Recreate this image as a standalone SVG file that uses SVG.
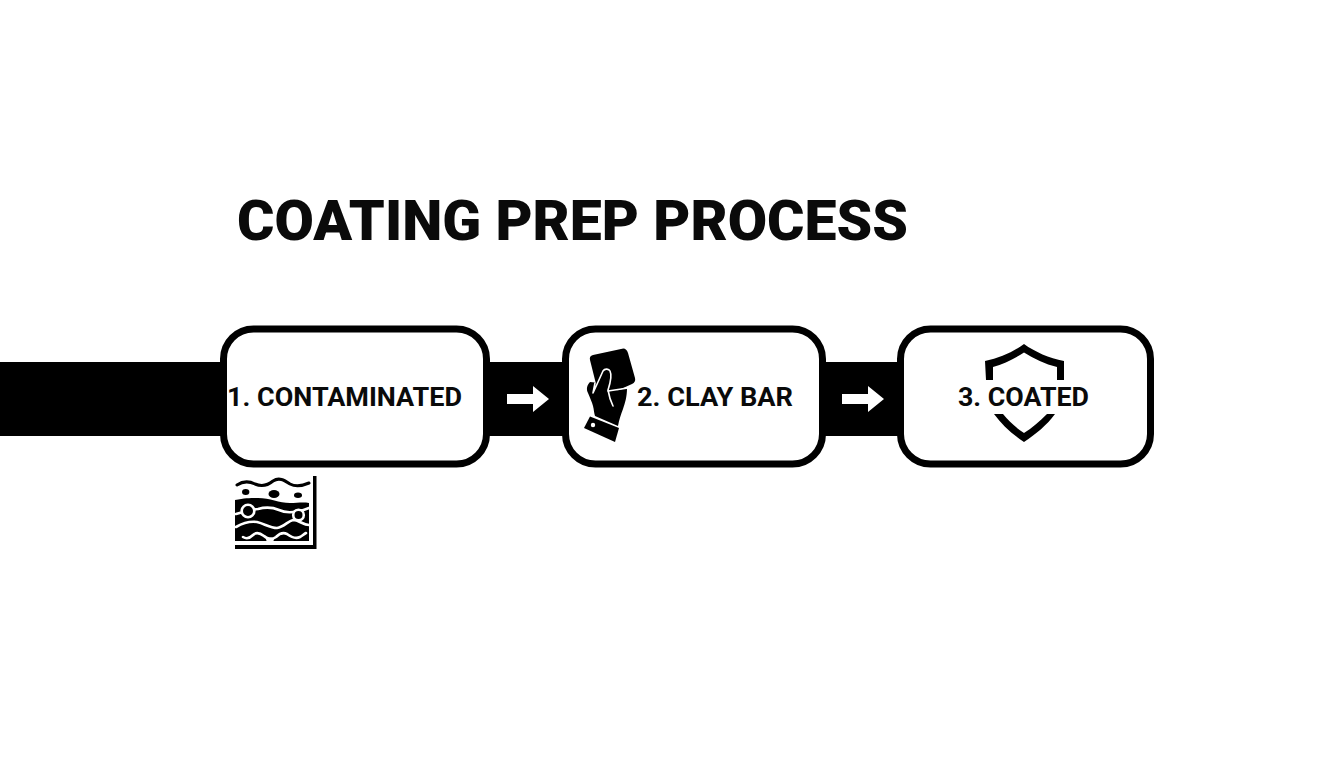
<svg xmlns="http://www.w3.org/2000/svg" width="1344" height="768" viewBox="0 0 1344 768">
<style>
.box{fill:#fff;stroke:#000;stroke-width:7}
.lbl{font-family:Roboto,"Liberation Sans",Arial,sans-serif;font-weight:700;font-size:26px;fill:#0a0a0a}
.title{font-family:Roboto,"Liberation Sans",Arial,sans-serif;font-weight:900;font-size:56px;fill:#0a0a0a}
.w{fill:none;stroke:#fff;stroke-width:2.600;stroke-linecap:round;stroke-linejoin:round}
.t{fill:none;stroke:#fff;stroke-width:1.600;stroke-linecap:round;stroke-linejoin:round}
.k{fill:none;stroke:#000;stroke-width:3;stroke-linecap:round}
</style>
<rect width="1344" height="768" fill="#fff"/>
<g id="connectors">
<rect x="0" y="362" width="225" height="74" fill="#000"/>
<rect x="486" y="362" width="82" height="74" fill="#000"/>
<rect x="822" y="362" width="80" height="74" fill="#000"/>
<polygon points="507,394 533,394 533,386 549,399 533,412 533,404 507,404" fill="#fff"/>
<polygon points="842,394 868,394 868,386 884,399 868,412 868,404 842,404" fill="#fff"/>
</g>
<text id="title" class="title" x="237" y="240" textLength="671" lengthAdjust="spacingAndGlyphs">COATING PREP PROCESS</text>
<g id="node-1">
<rect class="box" x="223.500" y="329" width="263" height="135" rx="30"/>
<text class="lbl" x="227" y="406" textLength="235" lengthAdjust="spacingAndGlyphs">1. CONTAMINATED</text>
<g id="contaminated-icon">
<path d="M313,476H316.500V549H235V545H313Z" fill="#000"/>
<path class="k" d="M237,485C243,481 249,481 255,484C262,487 267,486 273,481C279,477 284,480 290,484C296,487 302,486 309,483"/>
<ellipse cx="245.700" cy="492" rx="3.700" ry="3" fill="#000"/>
<ellipse cx="274" cy="494" rx="5.500" ry="4" fill="#000"/>
<ellipse cx="298" cy="495.300" rx="4" ry="2.700" fill="#000"/>
<path d="M235,500C245,498 251,498 258,498C270,498 279,503 290,503C297,503 303,502 309,503V541H235Z" fill="#000"/>
<path class="w" d="M236,514C242,512 250,510 258,509C265,507 272,507 279,510C287,514 296,513 309,508"/>
<circle cx="248" cy="511" r="6.300" fill="#000" stroke="#fff" stroke-width="2.600"/>
<circle cx="298.500" cy="515" r="5.300" fill="#000" stroke="#fff" stroke-width="2.600"/>
<path class="w" d="M236,527C243,523 250,521 257,522C265,524 270,528 277,528C284,527 288,521 293,520C299,520 303,525 309,525"/>
<path class="w" d="M243,537C246,539 250,538 253,535C256,532 260,533 264,536C267,539 272,540 276,537C279,534 283,532 287,534C291,537 296,539 300,537C302,536 304,534 306,533"/>
<ellipse cx="270" cy="539.500" rx="4" ry="2" fill="#fff"/>
</g>
</g>
<g id="node-2">
<rect class="box" x="565.500" y="329" width="257" height="135" rx="30"/>
<text class="lbl" x="637" y="406" textLength="156" lengthAdjust="spacingAndGlyphs">2. CLAY BAR</text>
<g id="hand-icon">
<path d="M593,355Q589,356 590,360L596,384L612,393L632,384Q636,382 635,378L628,353Q626,347 621,349Z" fill="#000"/>
<path d="M590,382C587,385 586,389 588,393C590,398 592,402 593,406C594,410 594,413 595,416L618,426C619,420 621,414 623,409C625,403 627,397 627,388L610,392L600,383Z" fill="#000"/>
<path class="t" d="M595,383L593,393L603,371C605,368 609,369 610,371C612,375 610,384 608,390C609,396 611,402 613,406"/>
<path class="t" d="M608,391L628,388"/>
<path d="M590,416.500L619,428L615,442L584,428Z" fill="#000"/>
<circle cx="593" cy="425" r="2.200" fill="#fff"/>
</g>
</g>
<g id="node-3">
<rect class="box" x="900.500" y="329" width="250" height="135" rx="30"/>
<path d="M985,361C1000,358 1013,352 1024,344C1035,352 1049,358 1064,361V380H1057V367C1045,364 1034,359 1024,352.500C1014,359 1004,364 993,367V380H986Z" fill="#000"/>
<path d="M994,414H1003C1009,421 1016,428 1024,433C1032,428 1040,421 1047,414H1055C1047,425 1036,434 1024,442C1012,434 1002,425 994,414Z" fill="#000"/>
<text class="lbl" x="958" y="406" textLength="131" lengthAdjust="spacingAndGlyphs">3. COATED</text>
</g>
</svg>
